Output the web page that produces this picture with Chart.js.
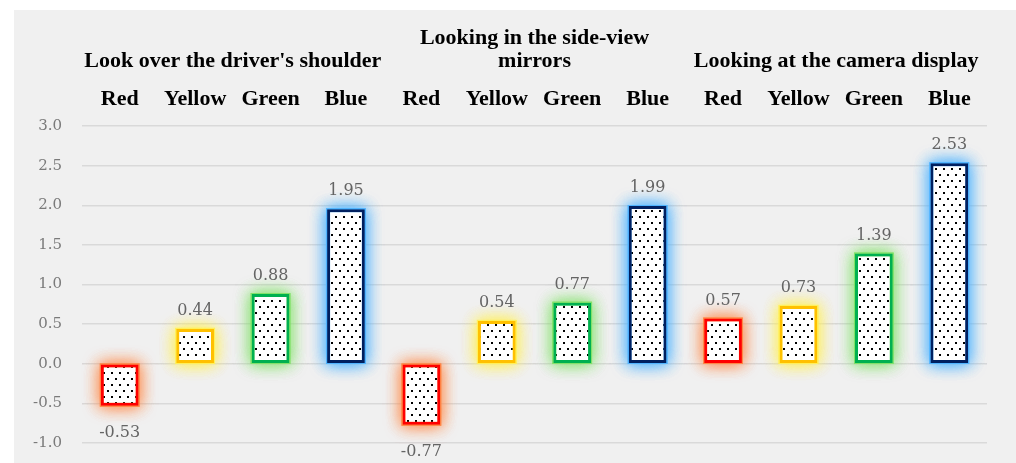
<!DOCTYPE html>
<html>
<head>
<meta charset="utf-8">
<script src="https://cdn.jsdelivr.net/npm/chart.js@4"></script>
<style>
    body { margin: 0; background: #ffffff; }
    #panel { position: absolute; left: 14px; top: 10px; width: 1002px; height: 453px; background: #f0f0f0; }
</style>
</head>
<body>
<div id="panel"><canvas id="glowChart" width="1002" height="453"></canvas></div>
<script>
var categories = ["Red", "Yellow", "Green", "Blue", "Red", "Yellow", "Green", "Blue", "Red", "Yellow", "Green", "Blue"];
var groups = ["Look over the driver's shoulder", ["Looking in the side-view", "mirrors"], "Looking at the camera display"];
var values = [-0.53, 0.44, 0.88, 1.95, -0.77, 0.54, 0.77, 1.99, 0.57, 0.73, 1.39, 2.53];
var yTicks = [-1.0, -0.5, 0.0, 0.5, 1.0, 1.5, 2.0, 2.5, 3.0];

var borderColors = {Red: "#ff0000", Yellow: "#ffc000", Green: "#00b050", Blue: "#002060"};
var glowColors = {Red: "rgba(255,135,70,0.75)", Yellow: "rgba(255,240,90,0.8)", Green: "rgba(130,225,105,0.75)", Blue: "rgba(80,180,255,0.8)"};

// dotted fill, like the office "5%" pattern
function makeDots() {
    var c = document.createElement("canvas");
    c.width = 8;
    c.height = 12;
    var g = c.getContext("2d");
    g.fillStyle = "#ffffff";
    g.fillRect(0, 0, 8, 12);
    g.fillStyle = "#000000";
    g.fillRect(1, 2, 2, 2);
    g.fillRect(5, 8, 2, 2);
    return g.createPattern(c, "repeat");
}
var dots = makeDots();

// soft halo behind each bar
var glowPlugin = {
    id: "glow",
    beforeDatasetsDraw: function(chart) {
        var ctx = chart.ctx;
        chart.getDatasetMeta(0).data.forEach(function(bar, i) {
            var left = bar.x - bar.width / 2;
            var top = Math.min(bar.y, bar.base);
            var h = Math.abs(bar.base - bar.y);
            ctx.save();
            ctx.shadowColor = glowColors[categories[i]];
            ctx.shadowBlur = 16;
            ctx.fillStyle = glowColors[categories[i]];
            for (var k = 0; k < 3; k++) {
                ctx.fillRect(left - 1, top - 1, bar.width + 2, h + 2);
            }
            ctx.restore();
        });
    }
};

var labelPlugin = {
    id: "valueLabels",
    afterDatasetsDraw: function(chart) {
        var ctx = chart.ctx;
        ctx.save();
        ctx.font = "16px 'DejaVu Serif'";
        ctx.fillStyle = "#646464";
        ctx.textAlign = "center";
        chart.getDatasetMeta(0).data.forEach(function(bar, i) {
            var v = values[i];
            if (v >= 0) {
                ctx.textBaseline = "bottom";
                ctx.fillText(v.toFixed(2), bar.x, bar.y - 10);
            } else {
                ctx.textBaseline = "top";
                ctx.fillText(v.toFixed(2), bar.x, bar.y + 19);
            }
        });
        ctx.restore();
    }
};

var headFont = {family: "'Liberation Serif'", size: 22, weight: "bold", lineHeight: 1.05};

new Chart(document.getElementById("glowChart"), {
    type: "bar",
    data: {
        labels: categories,
        datasets: [{
            data: values,
            backgroundColor: dots,
            borderColor: categories.map(function(c) { return borderColors[c]; }),
            borderWidth: 3,
            borderSkipped: false,
            barPercentage: 0.5,
            categoryPercentage: 1.0
        }]
    },
    options: {
        responsive: false,
        animation: false,
        layout: { padding: { top: 1, right: 29, bottom: 20, left: 0 } },
        plugins: { legend: { display: false }, tooltip: { enabled: false } },
        scales: {
            x: {
                position: "top",
                weight: 1,
                grid: { display: false, drawTicks: false },
                border: { display: false },
                ticks: { font: headFont, color: "#000000", padding: 15, maxRotation: 0, autoSkip: false },
                afterFit: function(s) { s.height = 44; }
            },
            x2: {
                type: "category",
                labels: groups,
                position: "top",
                weight: 2,
                offset: true,
                grid: { display: false, drawTicks: false },
                border: { display: false },
                ticks: { font: headFont, color: "#000000", padding: 9, maxRotation: 0, autoSkip: false },
                afterFit: function(s) { s.height = 71; }
            },
            y: {
                min: -1,
                max: 3,
                afterBuildTicks: function(s) { s.ticks = yTicks.map(function(v) { return {value: v}; }); },
                ticks: {
                    font: {family: "'DejaVu Serif'", size: 15},
                    color: "#7a7a7a",
                    padding: 20,
                    callback: function(v) { return Number(v).toFixed(1); }
                },
                grid: { color: "#d9d9d9", lineWidth: 1.5, drawTicks: false },
                border: { display: false },
                afterFit: function(s) { s.width = 68; s.paddingTop = 0; s.paddingBottom = 0; }
            }
        }
    },
    plugins: [glowPlugin, labelPlugin]
});
</script>
</body>
</html>
